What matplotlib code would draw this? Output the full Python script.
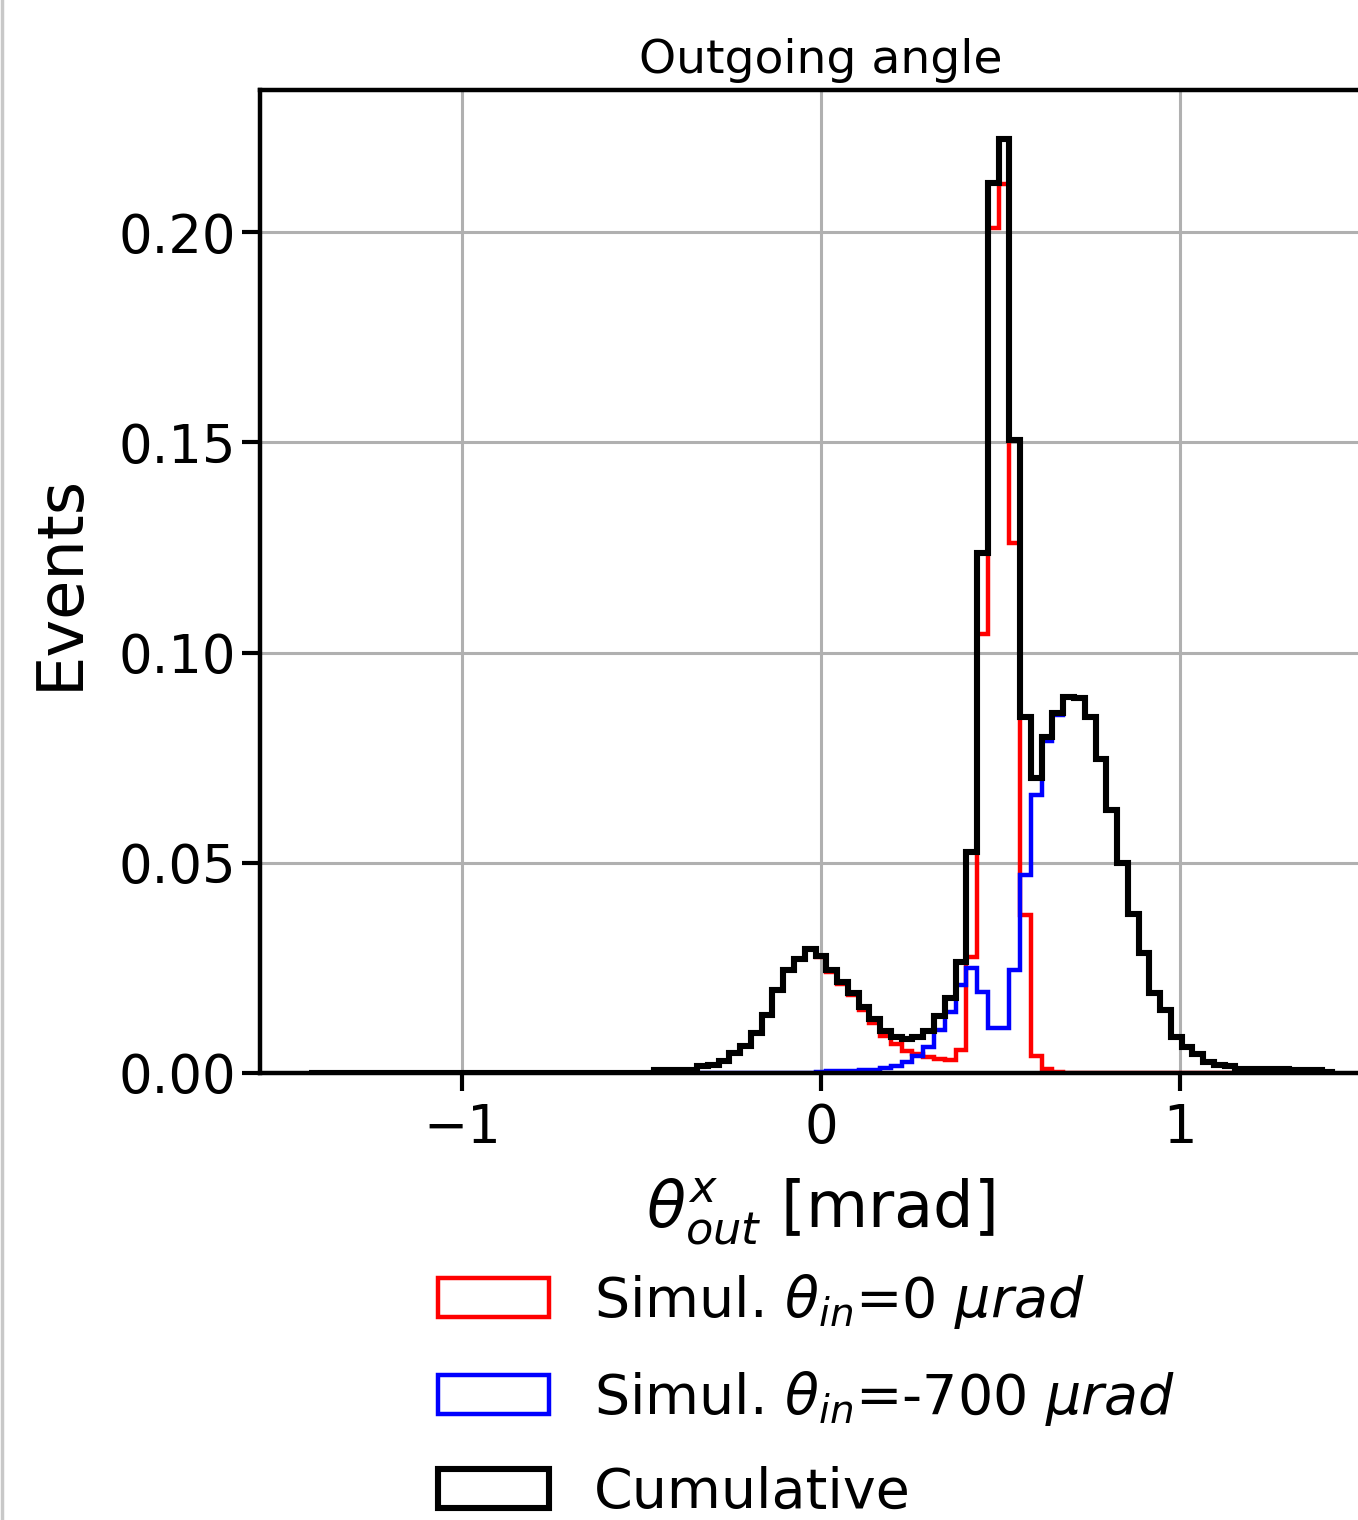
import numpy as np
import matplotlib
matplotlib.use("Agg")
import matplotlib.pyplot as plt
from matplotlib.lines import Line2D

# bin edges of the outgoing angle histogram [mrad]
edges = np.linspace(-1.425, 1.425, 96)
centers = 0.5 * (edges[:-1] + edges[1:])

# Simul. theta_in = 0 urad (bins from -1.41 to 1.41)
red = [0.0] * 32 + [0.0007, 0.0007, 0.0007, 0.0007,
       0.0017, 0.0020, 0.0029, 0.0047, 0.0065, 0.0095, 0.0138, 0.0197, 0.0245, 0.0271, 0.0294,
       0.0275, 0.0240, 0.0212, 0.0185, 0.0150, 0.0120, 0.0088, 0.0070, 0.0053, 0.0045, 0.0038,
       0.0034, 0.0032, 0.0055,
       0.0275, 0.1045, 0.2010, 0.2115, 0.1260, 0.0375, 0.0040, 0.0010, 0.0003] + [0.0] * 25

# Simul. theta_in = -700 urad
blue = [0.0] * 46 + [0.0001, 0.0003, 0.0004, 0.0005, 0.0005, 0.0007, 0.0008, 0.0012, 0.0016,
        0.0027, 0.0041, 0.0062, 0.0102, 0.0146, 0.0210,
        0.0250, 0.0192, 0.0106, 0.0106, 0.0245, 0.0472, 0.0661, 0.0790, 0.0852,
        0.0895, 0.0892, 0.0847, 0.0746, 0.0625, 0.0499, 0.0378, 0.0285, 0.0190, 0.0150,
        0.0085, 0.0062, 0.0045, 0.0025, 0.0019, 0.0016, 0.0010, 0.0010, 0.0010, 0.0010,
        0.0010, 0.0006, 0.0006, 0.0006, 0.0003]

red = np.array(red)
blue = np.array(blue)
total = red + blue

fig = plt.figure(figsize=(13.58, 15.2), dpi=100)
ax = fig.add_axes([0.1915, 0.2941, 0.826, 0.6467])

ax.hist(centers, bins=edges, weights=red, histtype='step', color='red', lw=3.2,
        label=r'Simul. $\theta_{in}$=0 $\mu rad$')
ax.hist(centers, bins=edges, weights=blue, histtype='step', color='blue', lw=3.2,
        label=r'Simul. $\theta_{in}$=-700 $\mu rad$')
ax.hist(centers, bins=edges, weights=total, histtype='step', color='black', lw=4.4,
        label='Cumulative')

ax.set_xlim(-1.5625, 1.5625)
ax.set_ylim(0, 0.2338)
ax.set_xticks([-1, 0, 1])
ax.set_yticks([0.0, 0.05, 0.10, 0.15, 0.20])
ax.grid(True, color='#b0b0b0', lw=2.2)
ax.set_axisbelow(True)
for s in ax.spines.values():
    s.set_linewidth(3.2)
ax.tick_params(labelsize=38, length=13, width=3)
ax.tick_params(axis='y', pad=4)
ax.tick_params(axis='x', pad=8)

ax.set_title('Outgoing angle', fontsize=34, pad=12)
ax.set_xlabel(r'$\theta^{x}_{out}$ [mrad]', fontsize=46, labelpad=16)
ax.set_ylabel('Events', fontsize=46, labelpad=20)

fig.legend(loc='upper left', bbox_to_anchor=(0.286, 0.196), frameon=False, fontsize=40,
           labelspacing=0.68)

fig.add_artist(Line2D([0.0012, 0.0012], [0, 1], color='#c8c8c8', lw=2.5))

fig.savefig('out.png', dpi=100)
